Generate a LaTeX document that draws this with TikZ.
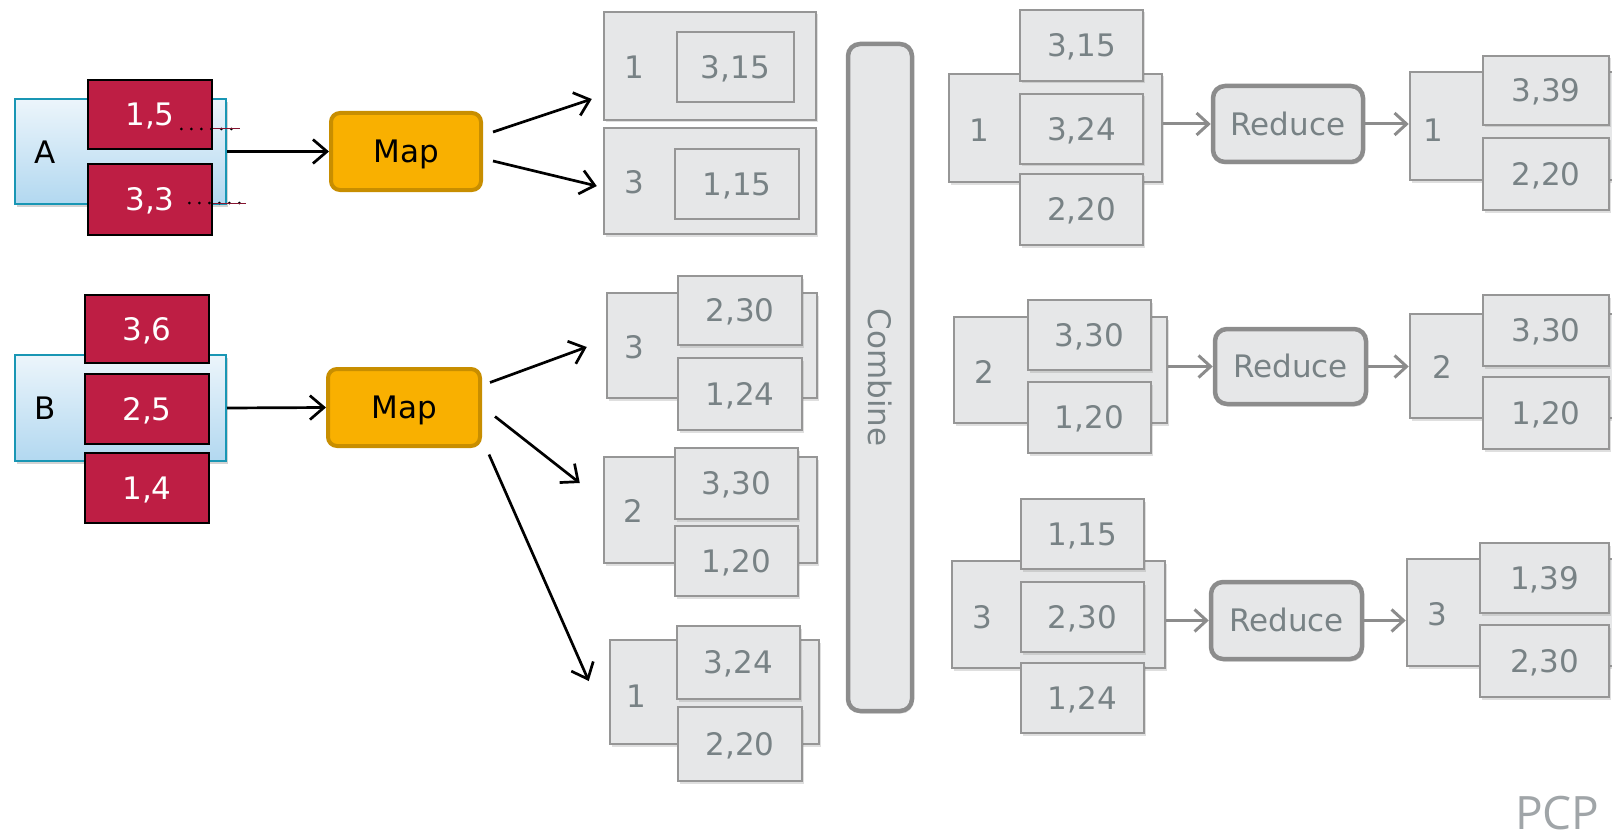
\documentclass[tikz,border=0pt]{standalone}
\usepackage{fontspec}
\setmainfont{DejaVu Sans}
\newfontfamily\pcpfont{Open Sans}
\usetikzlibrary{arrows.meta,shadows,calc}
\definecolor{crim}{RGB}{190,30,68}
\definecolor{amberf}{RGB}{249,176,0}
\definecolor{amberd}{RGB}{200,142,0}
\definecolor{gfill}{RGB}{230,231,232}
\definecolor{gline}{RGB}{150,150,150}
\definecolor{gtext}{RGB}{120,130,133}
\definecolor{rline}{RGB}{140,140,140}
\definecolor{srcline}{RGB}{25,150,180}
\definecolor{srctop}{RGB}{236,245,251}
\definecolor{srcbot}{RGB}{178,216,240}
\definecolor{pcpc}{RGB}{160,165,168}
\newcommand\mybox[7]{\node[#2, minimum width={#5-#3}, minimum height={#6-#4}, inner sep=0pt] (#1) at ({(#3+#5)/2},{(#4+#6)/2}) {#7};}
\tikzset{
  src/.style={draw=srcline, line width=2pt, top color=srctop, bottom color=srcbot,
    drop shadow={opacity=0.35, shadow xshift=2pt, shadow yshift=-3pt}},
  kv/.style={draw=black, line width=2.5pt, fill=crim, text=white},
  mapn/.style={rounded corners=9pt, fill=amberf, draw=amberd, line width=4pt},
  gb/.style={fill=gfill, draw=gline, line width=2.5pt, text=gtext,
    drop shadow={opacity=0.25, shadow xshift=1.5pt, shadow yshift=-2.5pt}},
  gin/.style={fill=gfill, draw=gline, line width=2.5pt, text=gtext},
  redn/.style={rounded corners=12pt, fill=gfill, draw=rline, line width=4.5pt, text=gtext,
    drop shadow={opacity=0.25, shadow xshift=1.5pt, shadow yshift=-2.5pt}},
  lab/.style={text=gtext, inner sep=0pt},
  arr/.style={line width=2.7pt, -{Straight Barb[length=14pt,width=24pt]}},
  garr/.style={draw=rline, line width=3pt, -{Straight Barb[length=12pt,width=22pt]}},
  dots/.style={line width=3pt, dash pattern=on 0pt off 10pt, line cap=round},
}
\begin{document}
\begin{tikzpicture}[x=1pt,y=-1pt, nodes={font=\fontsize{31}{37}\selectfont, text height=22.6pt, text depth=0pt}]
\useasboundingbox (0,0) rectangle (1612,832);
\begin{scope}
\clip (0,0) rectangle (1612,832);
% sources
\mybox{A}{src}{15}{99}{226}{204}{}
\node[inner sep=0pt] (Alab) at (45,152) {A};
\mybox{r15}{kv}{88}{80}{212}{149}{1,5}
\mybox{r33}{kv}{88}{164}{212}{235}{3,3}
\draw[dots] ([shift={(-32,14.5)}]r15.east) -- ([shift={(27,14.5)}]r15.east);
\draw[crim!70!black, line width=1pt] ([shift={(0,14.5)}]r15.east) -- ++(27,0);
\draw[dots] ([shift={(-24,3.5)}]r33.east) -- ([shift={(33,3.5)}]r33.east);
\draw[crim!70!black, line width=1pt] ([shift={(0,3.5)}]r33.east) -- ++(33,0);
\mybox{B}{src}{15}{355}{226}{461}{}
\node[inner sep=0pt] (Blab) at (45,408) {B};
\mybox{r36}{kv}{85}{295}{209}{363}{3,6}
\mybox{r25}{kv}{85}{374}{209}{444}{2,5}
\mybox{r14}{kv}{85}{453}{209}{523}{1,4}
% maps
\mybox{map1}{mapn}{331}{113}{481}{190}{Map}
\mybox{map2}{mapn}{328}{369}{480}{446}{Map}
\draw[arr] (A.east) -- (map1.west);
\draw[arr] (B.east) -- (map2.west);
% shuffle boxes
\mybox{s1}{gb}{604}{12}{816}{120}{}
\node[lab] (s1k) at (634,67) {1};
\mybox{s1a}{gin}{677}{32}{794}{102}{3,15}
\mybox{s2}{gb}{604}{128}{816}{234}{}
\node[lab] (s2k) at (634,182) {3};
\mybox{s2a}{gin}{675}{149}{799}{219}{1,15}
\mybox{s3}{gb}{607}{293}{817}{398}{}
\node[lab] (s3k) at (634,347) {3};
\mybox{s3a}{gb}{678}{276}{802}{345}{2,30}
\mybox{s3b}{gb}{678}{358}{802}{430}{1,24}
\mybox{s4}{gb}{604}{457}{817}{563}{}
\node[lab] (s4k) at (633,511) {2};
\mybox{s4a}{gb}{675}{448}{798}{519}{3,30}
\mybox{s4b}{gb}{675}{526}{798}{596}{1,20}
\mybox{s5}{gb}{610}{640}{819}{744}{}
\node[lab] (s5k) at (636,696) {1};
\mybox{s5a}{gb}{677}{626}{800}{699}{3,24}
\mybox{s5b}{gb}{678}{707}{802}{781}{2,20}
% map arrows
\draw[arr] ($(map1.east)+(10,-19.5)$) -- ($(s1.west)+(-11,33)$);
\draw[arr] ($(map1.east)+(10,9.5)$) -- ($(s2.west)+(-6,5)$);
\draw[arr] ($(map2.east)+(8,-25)$) -- ($(s3.west)+(-19,1.5)$);
\draw[arr] ($(map2.east)+(13,9)$) -- ($(s4.west)+(-23,-27)$);
\draw[arr] ($(map2.east)+(7,47)$) -- ($(s5.west)+(-20,-11)$);
% combine
\mybox{comb}{redn}{848}{44}{912}{711}{}
\node[text=gtext, rotate=-90] (combl) at (comb.center) {Combine};
% group 1
\mybox{g1}{gb}{949}{74}{1162}{182}{}
\node[lab] (g1k) at (979,130) {1};
\mybox{g1a}{gb}{1020}{10}{1143}{81}{3,15}
\mybox{g1b}{gb}{1020}{94}{1143}{164}{3,24}
\mybox{g1c}{gb}{1020}{174}{1143}{245}{2,20}
\mybox{red1}{redn}{1213}{86}{1363}{162}{Reduce}
\mybox{res1}{gb}{1410}{72}{1630}{180}{}
\node[lab] (res1k) at (1433,130) {1};
\mybox{res1a}{gb}{1483}{56}{1609}{125}{3,39}
\mybox{res1b}{gb}{1483}{138}{1609}{210}{2,20}
\draw[garr] (red1.west -| g1.east) -- (red1.west);
\draw[garr] (red1.east) -- (red1.east -| res1.west);
% group 2
\mybox{g2}{gb}{954}{317}{1167}{423}{}
\node[lab] (g2k) at (984,372) {2};
\mybox{g2a}{gb}{1028}{300}{1151}{370}{3,30}
\mybox{g2b}{gb}{1028}{382}{1151}{453}{1,20}
\mybox{red2}{redn}{1215}{329}{1366}{404}{Reduce}
\mybox{res2}{gb}{1410}{314}{1630}{418}{}
\node[lab] (res2k) at (1442,367) {2};
\mybox{res2a}{gb}{1483}{295}{1609}{366}{3,30}
\mybox{res2b}{gb}{1483}{377}{1609}{449}{1,20}
\draw[garr] (red2.west -| g2.east) -- (red2.west);
\draw[garr] (red2.east) -- (red2.east -| res2.west);
% group 3
\mybox{g3}{gb}{952}{561}{1165}{668}{}
\node[lab] (g3k) at (982,617) {3};
\mybox{g3a}{gb}{1021}{499}{1144}{569}{1,15}
\mybox{g3b}{gb}{1021}{582}{1144}{652}{2,30}
\mybox{g3c}{gb}{1021}{663}{1144}{733}{1,24}
\mybox{red3}{redn}{1211}{582}{1362}{659}{Reduce}
\mybox{res3}{gb}{1407}{559}{1630}{666}{}
\node[lab] (res3k) at (1437,614) {3};
\mybox{res3a}{gb}{1480}{543}{1609}{613}{1,39}
\mybox{res3b}{gb}{1480}{625}{1609}{697}{2,30}
\draw[garr] (red3.west -| g3.east) -- (red3.west);
\draw[garr] (red3.east) -- (red3.east -| res3.west);
% footer
\node[anchor=base west, inner sep=0pt, text=pcpc, text height=, text depth=, font=\pcpfont\fontsize{46}{50}\selectfont] (pcp) at (1515,829) {PCP};
\end{scope}
\end{tikzpicture}
\end{document}
